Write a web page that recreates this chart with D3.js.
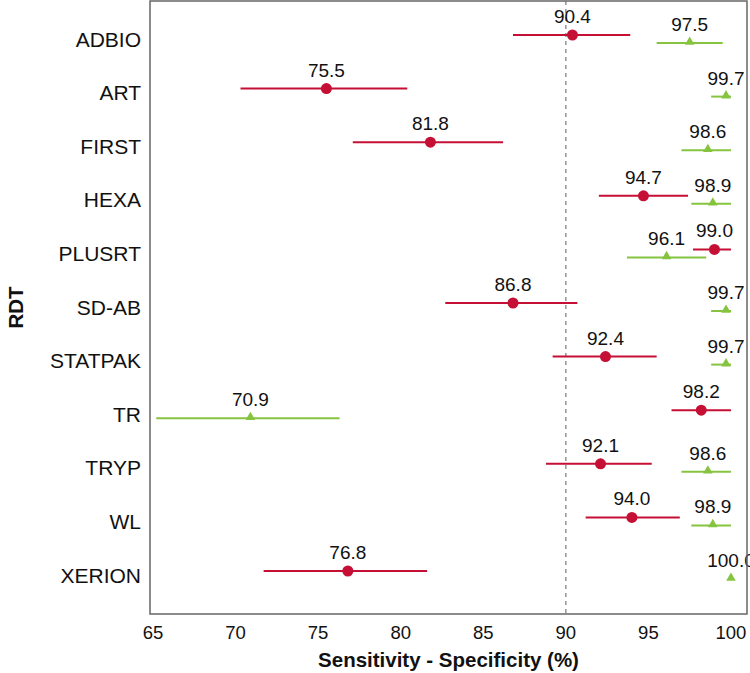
<!DOCTYPE html>
<html>
<head>
<meta charset="utf-8">
<script src="https://cdn.jsdelivr.net/npm/d3@7"></script>
<style>
  html, body { margin: 0; padding: 0; background: #fff; }
  svg { display: block; font-family: "Liberation Sans", Arial, Helvetica, sans-serif; }
</style>
</head>
<body>
<svg id="chart" width="750" height="673"></svg>
<script>
const categories = ["ADBIO","ART","FIRST","HEXA","PLUSRT","SD-AB","STATPAK","TR","TRYP","WL","XERION"];
const sensitivity   = [90.4, 75.5, 81.8, 94.7, 99.0, 86.8, 92.4, 98.2, 92.1, 94.0, 76.8];
const sensitivityLo = [86.8, 70.3, 77.1, 92.0, 97.7, 82.7, 89.2, 96.4, 88.8, 91.2, 71.7];
const sensitivityHi = [93.9, 80.4, 86.2, 97.4, 100.0, 90.7, 95.5, 100.0, 95.2, 96.9, 81.6];
const specificity   = [97.5, 99.7, 98.6, 98.9, 96.1, 99.7, 99.7, 70.9, 98.6, 98.9, 100.0];
const specificityLo = [95.5, 98.8, 97.0, 97.6, 93.7, 98.8, 98.8, 65.2, 97.0, 97.6, 100.0];
const specificityHi = [99.5, 100.0, 100.0, 100.0, 98.5, 100.0, 100.0, 76.3, 100.0, 100.0, 100.0];
const xTicks = [65, 70, 75, 80, 85, 90, 95, 100];
const refLine = 90;

const series = [
  { name: "Sensitivity", values: sensitivity, lo: sensitivityLo, hi: sensitivityHi, color: "#C50F35", shape: "circle", offset: -4 },
  { name: "Specificity", values: specificity, lo: specificityLo, hi: specificityHi, color: "#86C440", shape: "triangle", offset: 4 }
];

const svg = d3.select("#chart");
const P = { left: 150, right: 747, top: 1, bottom: 614 };

const x = d3.scaleLinear().domain([64.82, 100.97]).range([P.left, P.right]);
const y = d3.scalePoint().domain(categories).range([P.top + 38, P.bottom - 39]);

svg.append("defs").append("clipPath").attr("id", "clip")
  .append("rect").attr("x", P.left).attr("y", P.top)
  .attr("width", P.right - P.left).attr("height", P.bottom - P.top);

// reference line
svg.append("line")
  .attr("x1", x(refLine)).attr("x2", x(refLine))
  .attr("y1", P.top).attr("y2", P.bottom)
  .attr("stroke", "#999").attr("stroke-width", 1.6)
  .attr("stroke-dasharray", "4,4");

const g = svg.append("g").attr("clip-path", "url(#clip)");

series.forEach(s => {
  const rows = categories.map((c, i) => ({ c, v: s.values[i], lo: s.lo[i], hi: s.hi[i] }));
  g.selectAll(null).data(rows).enter().append("line")
    .attr("x1", d => x(d.lo)).attr("x2", d => x(d.hi))
    .attr("y1", d => y(d.c) + s.offset).attr("y2", d => y(d.c) + s.offset)
    .attr("stroke", s.color).attr("stroke-width", 2);
  if (s.shape === "circle") {
    g.selectAll(null).data(rows).enter().append("circle")
      .attr("cx", d => x(d.v)).attr("cy", d => y(d.c) + s.offset)
      .attr("r", 5.5).attr("fill", s.color);
  } else {
    const tri = d3.symbol().type(d3.symbolTriangle).size(40);
    g.selectAll(null).data(rows).enter().append("path")
      .attr("d", tri)
      .attr("transform", d => `translate(${x(d.v)},${y(d.c) + s.offset - 1})`)
      .attr("fill", s.color);
  }
  svg.selectAll(null).data(rows).enter().append("text")
    .attr("x", d => x(d.v)).attr("y", d => y(d.c) + s.offset - 12)
    .attr("text-anchor", "middle")
    .attr("font-size", 19).attr("fill", "#111")
    .text(d => d.v.toFixed(1));
});

// panel border
svg.append("rect")
  .attr("x", P.left).attr("y", P.top)
  .attr("width", P.right - P.left).attr("height", P.bottom - P.top)
  .attr("fill", "none").attr("stroke", "#666").attr("stroke-width", 1.5);

// x axis labels
svg.selectAll(null).data(xTicks).enter().append("text")
  .attr("x", d => x(d)).attr("y", 639)
  .attr("text-anchor", "middle").attr("font-size", 18.5).attr("fill", "#111")
  .text(d => d);

// y axis labels
svg.selectAll(null).data(categories).enter().append("text")
  .attr("x", 141).attr("y", d => y(d) + 7.5)
  .attr("text-anchor", "end").attr("font-size", 21).attr("fill", "#111")
  .text(d => d);

// titles
svg.append("text")
  .attr("x", (P.left + P.right) / 2).attr("y", 667)
  .attr("text-anchor", "middle").attr("font-size", 20.5).attr("font-weight", "bold").attr("fill", "#111")
  .text("Sensitivity - Specificity (%)");
svg.append("text")
  .attr("transform", `translate(23,${(P.top + P.bottom) / 2}) rotate(-90)`)
  .attr("text-anchor", "middle").attr("font-size", 20.5).attr("font-weight", "bold").attr("fill", "#111")
  .text("RDT");
</script>
</body>
</html>
